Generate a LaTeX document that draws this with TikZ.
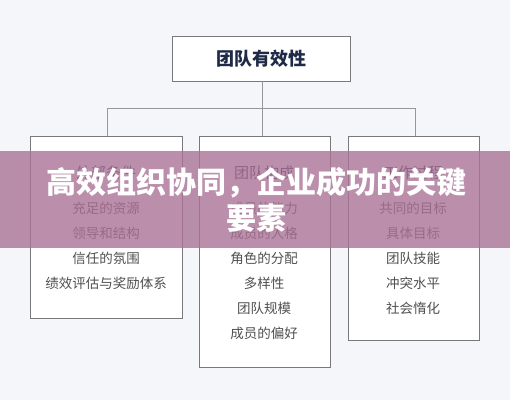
\documentclass[tikz,border=0pt]{standalone}
\usepackage{fontspec}
\newfontfamily\cjk{Noto Sans CJK SC}
\definecolor{bgc}{RGB}{244,246,249}
\definecolor{boxline}{RGB}{120,120,125}
\definecolor{linkc}{RGB}{150,150,155}
\definecolor{titlec}{RGB}{30,42,70}
\definecolor{itemc}{RGB}{80,80,80}
\definecolor{bannerc}{RGB}{170,115,150}
\tikzset{
  topbox/.style={draw=boxline, fill=white, line width=0.8pt},
  colbox/.style={draw=boxline, fill=white, line width=0.7pt},
  link/.style={draw=linkc, line width=0.8pt},
  toptext/.style={font=\cjk\bfseries\fontsize{18}{20}\selectfont, text=titlec},
  headtext/.style={font=\cjk\fontsize{15}{17}\selectfont, text=titlec},
  itemtext/.style={font=\cjk\fontsize{13.5}{15}\selectfont, text=itemc},
  bannertext/.style={font=\cjk\bfseries\fontsize{30}{36}\selectfont, text=white, align=center}
}
\begin{document}
\begin{tikzpicture}[x=1pt,y=-1pt]
\useasboundingbox (0,0) rectangle (510,400);
\fill[bgc] (0,0) rectangle (510,400);
% top box
\draw[topbox] (172,36) rectangle (350,81);
\node[toptext] (top) at (261,58.5) {团队有效性};
% connectors
\coordinate (topb) at (262,81);
\coordinate (hub) at (262,108);
\coordinate (hl) at (107,108);
\coordinate (hr) at (415,108);
\coordinate (ltop) at (107,136);
\coordinate (mtop) at (262,136);
\coordinate (rtop) at (415,136);
\draw[link] (topb) -- (hub);
\draw[link] (hl) -- (hr);
\draw[link] (hl) -- (ltop);
\draw[link] (hub) -- (mtop);
\draw[link] (hr) -- (rtop);
% column boxes
\draw[colbox] (30,136) rectangle (182,318);
\draw[colbox] (199,136) rectangle (330,367);
\draw[colbox] (348,136) rectangle (479,340);
% left
\node[headtext] (lh) at (106,173) {外部条件};
\node[itemtext] (l1) at (106,208) {充足的资源};
\node[itemtext] (l2) at (106,233) {领导和结构};
\node[itemtext] (l3) at (106,258) {信任的氛围};
\node[itemtext] (l4) at (106,283) {绩效评估与奖励体系};
% middle
\node[headtext] (mh) at (264,173) {团队构成};
\node[itemtext] (m1) at (264,208) {成员的能力};
\node[itemtext] (m2) at (264,233) {成员的人格};
\node[itemtext] (m3) at (264,258) {角色的分配};
\node[itemtext] (m4) at (264,283) {多样性};
\node[itemtext] (m5) at (264,308) {团队规模};
\node[itemtext] (m6) at (264,333) {成员的偏好};
% right
\node[headtext] (rh) at (413,173) {工作过程};
\node[itemtext] (r1) at (413,208) {共同的目标};
\node[itemtext] (r2) at (413,233) {具体目标};
\node[itemtext] (r3) at (413,258) {团队技能};
\node[itemtext] (r4) at (413,283) {冲突水平};
\node[itemtext] (r5) at (413,308) {社会惰化};
% banner
\fill[bannerc, opacity=0.8] (0,151) rectangle (510,248);
\node[bannertext] (banner) at (256,200) {高效组织协同，企业成功的关键\\要素};
\end{tikzpicture}
\end{document}
